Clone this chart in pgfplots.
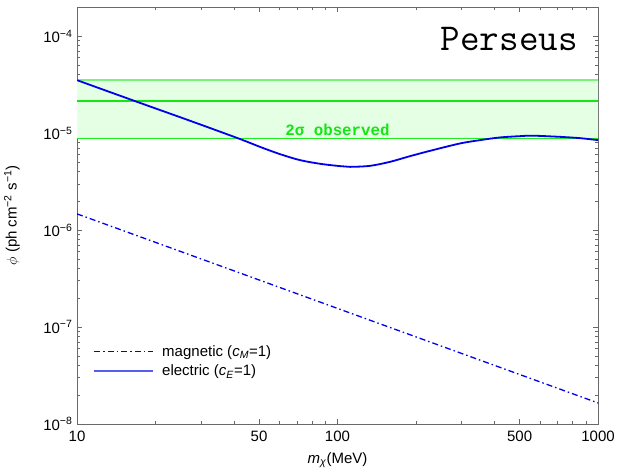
\documentclass[border=0pt]{standalone}
\usepackage{pgfplots}
\pgfplotsset{compat=1.18}
\usepackage{fontspec}
\setmainfont{Liberation Sans}
\newfontfamily\monofont{Liberation Mono}

\definecolor{bandfill}{RGB}{228,255,228}
\definecolor{bandtop}{RGB}{120,245,120}
\definecolor{bandmid}{RGB}{20,230,20}
\definecolor{bandlow}{RGB}{30,240,30}
\definecolor{curveblue}{RGB}{0,0,235}
\definecolor{legblue}{RGB}{90,90,245}
\definecolor{frame}{RGB}{105,105,105}

\begin{document}
\begin{tikzpicture}
\path[use as bounding box] (-77pt,-48pt) rectangle (549pt,424pt);
\begin{axis}[
    scale only axis,
    width=521pt, height=417pt,
    xmode=log, ymode=log,
    xmin=10, xmax=1000, ymin=1e-8, ymax=2e-4,
    axis line style={frame, line width=0.9pt},
    tick align=inside, tick pos=both,
    major tick length=5pt, minor tick length=3pt,
    every tick/.style={frame, line width=0.6pt},
    xtick={10,50,100,500,1000},
    xticklabels={10,50,100,500,1000},
    minor xtick={20,30,40,60,70,80,90,200,300,400,600,700,800,900},
    ytick={1e-8,1e-7,1e-6,1e-5,1e-4},
    yticklabels={10\textsuperscript{−8},10\textsuperscript{−7},10\textsuperscript{−6},10\textsuperscript{−5},10\textsuperscript{−4}},
    minor ytick={2e-8,3e-8,4e-8,5e-8,6e-8,7e-8,8e-8,9e-8,
                 2e-7,3e-7,4e-7,5e-7,6e-7,7e-7,8e-7,9e-7,
                 2e-6,3e-6,4e-6,5e-6,6e-6,7e-6,8e-6,9e-6,
                 2e-5,3e-5,4e-5,5e-5,6e-5,7e-5,8e-5,9e-5,2e-4},
    /pgf/number format/assume math mode=true,
    tick label style={font=\fontsize{15}{18}\selectfont},
    xticklabel style={yshift=-3pt},
    yticklabel style={xshift=-1pt},
    label style={font=\fontsize{15}{18}\selectfont},
    xlabel={\textit{m}\textsubscript{\textit{χ}}(MeV)},
    xlabel style={at={(axis description cs:0.5,-0.0863)}, anchor=center},
    ylabel={$\phi$ (ph cm\textsuperscript{−2} s\textsuperscript{−1})},
    ylabel style={at={(axis description cs:-0.1248,0.5)}, anchor=center},
    legend style={draw=none, fill=none, at={(axis description cs:0.0254,0.102)},
      anchor=south west, font=\fontsize{15}{18}\selectfont, row sep=3pt},
    legend cell align=left,
    legend image code/.code={\draw[#1] (0pt,0pt) -- (59pt,0pt); \path (65pt,0pt);},
  ]
  % observed band
  \addplot[draw=none, fill=bandfill, forget plot] coordinates {
    (10,8.82e-6) (1000,8.82e-6) (1000,3.52e-5) (10,3.52e-5) (10,8.82e-6)};
  \addplot[bandtop, line width=1.4pt, forget plot] coordinates {(10,3.52e-5) (1000,3.52e-5)};
  \addplot[bandmid, line width=1.8pt, forget plot] coordinates {(10,2.15e-5) (1000,2.15e-5)};
  \addplot[bandlow, line width=1.2pt, forget plot] coordinates {(10,8.82e-6) (1000,8.82e-6)};
  \node[anchor=base, text=bandmid, font=\monofont\bfseries\fontsize{15.8}{18}\selectfont]
    at (axis cs:100,9.55e-6) {2σ observed};

  % legend entries
  \addlegendimage{draw=curveblue, line width=1.1pt, dash pattern=on 6pt off 3pt on 1.5pt off 3pt}
  \addlegendentry{magnetic (\textit{c}\textsubscript{\textit{M}}=1)}
  \addlegendimage{draw=legblue, line width=1.8pt}
  \addlegendentry{electric (\textit{c}\textsubscript{\textit{E}}=1)}

  % magnetic
  \addplot[draw=curveblue, line width=1.3pt, dash pattern=on 6pt off 3pt on 1.5pt off 3pt, forget plot]
    coordinates {(10,1.47e-6) (1000,1.65e-8)};

  % electric
  \addplot[draw=curveblue, line width=1.8pt, smooth, forget plot] coordinates {
    (10,3.52e-5)
    (16.7,2.14e-5)
    (27.2,1.34e-5)
    (42.0,8.75e-6)
    (50.4,7.22e-6)
    (60.2,6.07e-6)
    (71.8,5.27e-6)
    (85.7,4.83e-6)
    (102.2,4.57e-6)
    (111.7,4.49e-6)
    (133.3,4.60e-6)
    (159.1,5.06e-6)
    (189.8,5.79e-6)
    (226.5,6.57e-6)
    (295.3,7.83e-6)
    (352.4,8.47e-6)
    (420.6,9.03e-6)
    (501.9,9.31e-6)
    (560,9.42e-6)
    (714,9.16e-6)
    (853,8.88e-6)
    (1000,8.47e-6)};

  \node[anchor=base east, inner sep=0pt, font=\ttfamily\fontsize{38}{44}\selectfont]
    at (axis description cs:0.9616,0.8969) {Perseus};
\end{axis}
\end{tikzpicture}
\end{document}
